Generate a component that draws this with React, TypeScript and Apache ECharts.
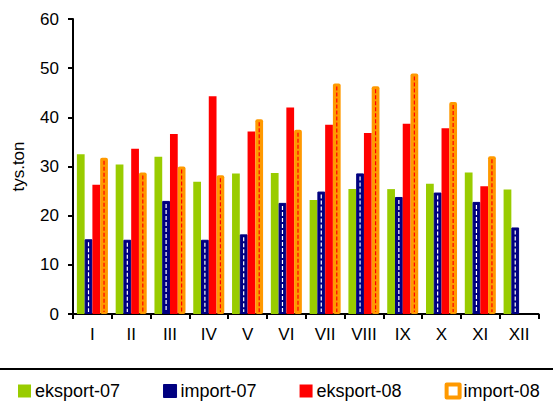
import React, { useEffect, useRef } from "react";
import * as echarts from "echarts";

const months = ["I", "II", "III", "IV", "V", "VI", "VII", "VIII", "IX", "X", "XI", "XII"];
const eksport07 = [32.5, 30.4, 32.0, 26.9, 28.6, 28.7, 23.2, 25.4, 25.4, 26.5, 28.8, 25.3];
const import07 = [15.2, 15.1, 23.0, 15.1, 16.2, 22.6, 24.9, 28.6, 23.8, 24.7, 22.8, 17.6];
const eksport08 = [26.3, 33.6, 36.6, 44.3, 37.1, 42.0, 38.5, 36.8, 38.7, 37.8, 26.0, null];
const import08 = [31.8, 28.8, 30.0, 28.2, 39.6, 37.5, 46.9, 46.3, 48.9, 43.1, 32.1, null];
const yTicks = [0, 10, 20, 30, 40, 50, 60];

const FONT = "'Liberation Sans', Arial, sans-serif";
const GREEN = "#99CC00";
const NAVY = "#000080";
const RED = "#FF0000";
const ORANGE = "#FF9900";

function dashSeries(name: string, values: (number | null)[], slot: number, stroke: string) {
  const data = values
    .map((v, i) => (v == null ? null : [i, v]))
    .filter((d) => d !== null);
  return {
    type: "custom",
    name,
    silent: true,
    z: 5,
    encode: { x: 0, y: 1 },
    data,
    renderItem: (params: any, api: any) => {
      const idx = api.value(0);
      const v = api.value(1);
      const base = api.coord([idx, 0]);
      const top = api.coord([idx, v]);
      const band = api.size([1, 0])[0];
      const bw = (band * 0.8) / 4;
      const x = base[0] - band * 0.4 + bw * (slot + 0.5);
      return {
        type: "line",
        shape: { x1: x, y1: top[1] + 3, x2: x, y2: base[1] - 2 },
        style: { stroke, lineWidth: 1.2, lineDash: [4, 2] },
      };
    },
  };
}

export default function App() {
  const ref = useRef<HTMLDivElement>(null);
  useEffect(() => {
    if (!ref.current) return;
    const chart = echarts.init(ref.current, null, { renderer: "svg" });
    chart.setOption({
      animation: false,
      textStyle: { fontFamily: FONT },
      grid: { left: 73, right: 14.5, top: 19, bottom: 93, containLabel: false },
      legend: {
        data: [
          "eksport-07",
          { name: "import-07", itemStyle: { color: NAVY, borderColor: NAVY, borderWidth: 1 } },
          "eksport-08",
          { name: "import-08", itemStyle: { color: "#FFFFFF", borderColor: ORANGE, borderWidth: 4 } },
        ],
        left: 18,
        top: 382,
        width: 700,
        padding: 0,
        icon: "rect",
        itemWidth: 13,
        itemHeight: 13,
        itemGap: 43,
        textStyle: { fontFamily: FONT, fontSize: 18, color: "#000", padding: [0, 0, 0, -1] },
      },
      graphic: [
        {
          type: "rect",
          shape: { x: -4, y: 369, width: 562, height: 60 },
          style: { fill: "none", stroke: "#000", lineWidth: 2 },
          silent: true,
        },
      ],
      xAxis: {
        type: "category",
        data: months,
        axisLine: { lineStyle: { color: "#000", width: 2 } },
        axisTick: { show: true, length: 5, inside: false, lineStyle: { color: "#000", width: 2 } },
        axisLabel: { color: "#000", fontSize: 17, fontFamily: FONT, margin: 12 },
      },
      yAxis: {
        type: "value",
        min: yTicks[0],
        max: yTicks[yTicks.length - 1],
        interval: 10,
        name: "tys.ton",
        nameLocation: "middle",
        nameGap: 46,
        nameRotate: 90,
        nameTextStyle: { color: "#000", fontSize: 17, fontFamily: FONT },
        splitLine: { show: false },
        axisLine: { show: true, lineStyle: { color: "#000", width: 2 } },
        axisTick: { show: true, length: 5, lineStyle: { color: "#000", width: 2 } },
        axisLabel: { color: "#000", fontSize: 17, fontFamily: FONT, margin: 14 },
      },
      series: [
        {
          type: "bar",
          name: "eksport-07",
          data: eksport07,
          barGap: "0%",
          barCategoryGap: "20%",
          itemStyle: { color: GREEN },
        },
        {
          type: "bar",
          name: "import-07",
          data: import07,
          itemStyle: { color: NAVY, borderColor: NAVY, borderWidth: 1 },
        },
        {
          type: "bar",
          name: "eksport-08",
          data: eksport08,
          itemStyle: { color: RED },
        },
        {
          type: "bar",
          name: "import-08",
          data: import08,
          itemStyle: { color: "#FFFFFF", borderColor: ORANGE, borderWidth: 4, borderJoin: "round" },
        },
        dashSeries("dash-import-07", import07, 1, "#FFFFFF"),
        dashSeries("dash-import-08", import08, 3, RED),
      ],
    });
    return () => chart.dispose();
  }, []);
  return (
    <div
      ref={ref}
      style={{ position: "fixed", left: 0, top: 0, width: 553, height: 407, background: "#fff" }}
    />
  );
}
